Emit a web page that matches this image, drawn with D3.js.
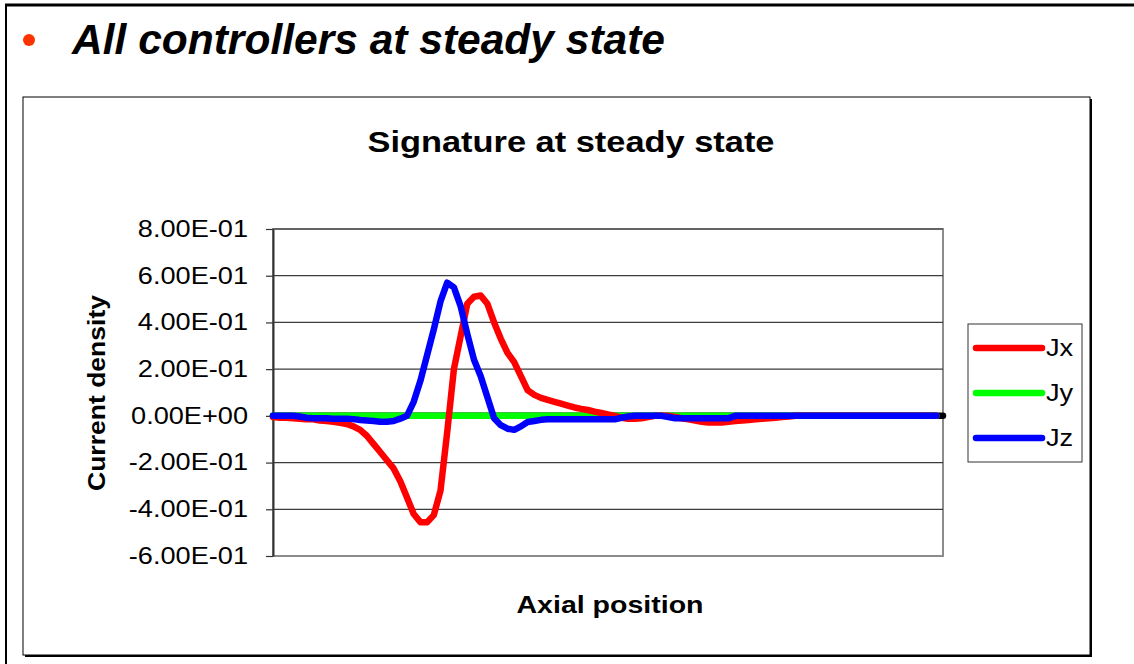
<!DOCTYPE html>
<html>
<head>
<meta charset="utf-8">
<script src="https://cdn.jsdelivr.net/npm/d3@7"></script>
<style>
  body { margin: 0; background: #fff; }
  text { font-family: Arial, "Liberation Sans", sans-serif; }
</style>
</head>
<body>
<div id="my_dataviz"></div>
<script>
// axial position index for each sample (100 samples)
const positions = d3.range(100);

// series
const jx = [-0.005, -0.008, -0.008, -0.01, -0.012, -0.015, -0.015, -0.02, -0.022, -0.025,
            -0.03, -0.035, -0.045, -0.06, -0.085, -0.12, -0.155, -0.19, -0.225, -0.28,
            -0.35, -0.42, -0.455, -0.455, -0.425, -0.32, -0.07, 0.2, 0.34, 0.48,
            0.51, 0.515, 0.48, 0.4, 0.33, 0.27, 0.23, 0.17, 0.11, 0.09,
            0.077, 0.068, 0.06, 0.052, 0.044, 0.036, 0.03, 0.025, 0.018, 0.012,
            0.006, 0, -0.008, -0.012, -0.012, -0.01, -0.005, 0, 0, 0,
            -0.005, -0.01, -0.015, -0.02, -0.025, -0.028, -0.028, -0.028, -0.025, -0.022,
            -0.02, -0.018, -0.015, -0.012, -0.01, -0.008, -0.005, -0.003, 0, 0,
            0, 0, 0, 0, 0, 0, 0, 0, 0, 0,
            0, 0, 0, 0, 0, 0, 0, 0, 0, 0];
const jy = [0, 0, 0, 0, 0, 0, 0, 0, 0, 0,
            0, 0, 0, 0, 0, 0, 0, 0, 0, 0,
            0, 0, 0, 0, 0, 0, 0, 0, 0, 0,
            0, 0, 0, 0, 0, 0, 0, 0, 0, 0,
            0, 0, 0, 0, 0, 0, 0, 0, 0, 0,
            0, 0, 0, 0, 0, 0, 0, 0, 0, 0,
            0, 0, 0, 0, 0, 0, 0, 0, 0, 0,
            0, 0, 0, 0, 0, 0, 0, 0, 0, 0,
            0, 0, 0, 0, 0, 0, 0, 0, 0, 0,
            0, 0, 0, 0, 0, 0, 0, 0, 0, 0];
const jz = [0, 0, 0, 0, -0.003, -0.008, -0.01, -0.01, -0.01, -0.012,
            -0.012, -0.012, -0.014, -0.018, -0.02, -0.022, -0.025, -0.025, -0.022, -0.012,
            0, 0.06, 0.15, 0.26, 0.37, 0.49, 0.57, 0.55, 0.47, 0.35,
            0.24, 0.17, 0.08, -0.01, -0.04, -0.055, -0.06, -0.045, -0.026, -0.022,
            -0.017, -0.015, -0.015, -0.015, -0.015, -0.015, -0.015, -0.015, -0.015, -0.015,
            -0.015, -0.015, -0.008, -0.003, 0, 0, 0, 0, 0, -0.005,
            -0.01, -0.01, -0.01, -0.01, -0.01, -0.01, -0.01, -0.01, -0.01, 0,
            0, 0, 0, 0, 0, 0, 0, 0, 0, 0,
            0, 0, 0, 0, 0, 0, 0, 0, 0, 0,
            0, 0, 0, 0, 0, 0, 0, 0, 0, 0];

const seriesNames = ["Jx", "Jy", "Jz"];
const seriesColors = ["#ff0000", "#00ff00", "#0000ff"];

const yTicks = [-0.6, -0.4, -0.2, 0, 0.2, 0.4, 0.6, 0.8];
const yTickLabels = ["-6.00E-01", "-4.00E-01", "-2.00E-01", "0.00E+00",
                     "2.00E-01", "4.00E-01", "6.00E-01", "8.00E-01"];

// stretch a text horizontally the way the slide was rendered
function stretch(sel, k) {
    sel.each(function() {
        const len = this.getComputedTextLength();
        d3.select(this)
          .attr("textLength", len * k)
          .attr("lengthAdjust", "spacingAndGlyphs");
    });
}

function init() {
    const width = 1134,
          height = 664;

    // plot area
    const left = 273, right = 943, top = 229, bottom = 556;

    const svg = d3.select("#my_dataviz")
                  .append("svg")
                  .attr("width", width)
                  .attr("height", height);

    // slide frame
    svg.append("line")
       .attr("x1", 5).attr("x2", width).attr("y1", 5).attr("y2", 5)
       .attr("stroke", "#000").attr("stroke-width", 3);
    svg.append("line")
       .attr("x1", 6).attr("x2", 6).attr("y1", 4).attr("y2", height)
       .attr("stroke", "#000").attr("stroke-width", 2);

    // slide bullet + heading
    svg.append("circle")
       .attr("cx", 29).attr("cy", 40).attr("r", 6)
       .attr("fill", "#ff3300");
    svg.append("text")
       .attr("x", 72).attr("y", 54)
       .attr("font-size", 43)
       .attr("font-weight", "bold")
       .attr("font-style", "italic")
       .attr("textLength", 593)
       .attr("lengthAdjust", "spacingAndGlyphs")
       .text("All controllers at steady state");

    // chart box with a small shadow
    svg.append("rect")
       .attr("x", 25).attr("y", 99).attr("width", 1067).attr("height", 558)
       .attr("fill", "#000");
    svg.append("rect")
       .attr("x", 23).attr("y", 97).attr("width", 1067).attr("height", 558)
       .attr("fill", "#fff").attr("stroke", "#000").attr("stroke-width", 1);

    svg.append("text")
       .attr("x", 571).attr("y", 152)
       .attr("font-size", 29)
       .attr("font-weight", "bold")
       .attr("text-anchor", "middle")
       .attr("textLength", 407)
       .attr("lengthAdjust", "spacingAndGlyphs")
       .text("Signature at steady state");

    // scales
    const x = d3.scaleLinear()
                .domain([0, 100])
                .range([left, right]);
    const y = d3.scaleLinear()
                .domain([-0.6, 0.8])
                .range([bottom, top]);

    // plot border
    svg.append("rect")
       .attr("x", left).attr("y", top)
       .attr("width", right - left).attr("height", bottom - top)
       .attr("fill", "#fff").attr("stroke", "#8c8c8c").attr("stroke-width", 2);

    // gridlines
    svg.append("g")
       .selectAll("line")
       .data(yTicks.filter(d => d !== -0.6))
       .join("line")
       .attr("x1", left).attr("x2", right)
       .attr("y1", d => y(d)).attr("y2", d => y(d))
       .attr("stroke", "#3c3c3c")
       .attr("stroke-width", 1.2);

    // y axis
    const yAxis = svg.append("g")
       .attr("transform", `translate(${left},0)`)
       .call(d3.axisLeft(y)
               .tickValues(yTicks)
               .tickFormat((d, i) => yTickLabels[i])
               .tickSize(7)
               .tickSizeOuter(0)
               .tickPadding(18));
    yAxis.select(".domain").attr("stroke", "#333").attr("stroke-width", 2);
    yAxis.selectAll(".tick line").attr("stroke", "#333").attr("stroke-width", 1.2);
    yAxis.selectAll(".tick text")
         .attr("font-size", 23)
         .attr("fill", "#000")
         .attr("font-family", "Arial, 'Liberation Sans', sans-serif")
         .call(stretch, 1.18);

    // category axis crossing at zero
    svg.append("line")
       .attr("x1", x(0)).attr("x2", x(100))
       .attr("y1", y(0)).attr("y2", y(0))
       .attr("stroke", "#000")
       .attr("stroke-width", 6.5)
       .attr("stroke-linecap", "round");

    // series
    const series = [jx, jy, jz];
    const line = d3.line()
                   .x((d, i) => x(positions[i]))
                   .y(d => y(d));

    // draw Jy first, then Jx, then Jz on top
    [1, 0, 2].forEach(k => {
        svg.append("path")
           .datum(series[k])
           .attr("d", line)
           .attr("fill", "none")
           .attr("stroke", seriesColors[k])
           .attr("stroke-width", 6.5)
           .attr("stroke-linejoin", "round")
           .attr("stroke-linecap", "round");
    });

    // axis titles
    svg.append("text")
       .attr("transform", "translate(105,393) rotate(-90)")
       .attr("font-size", 24)
       .attr("font-weight", "bold")
       .attr("text-anchor", "middle")
       .attr("textLength", 196)
       .attr("lengthAdjust", "spacingAndGlyphs")
       .text("Current density");

    svg.append("text")
       .attr("x", 610).attr("y", 613)
       .attr("font-size", 24)
       .attr("font-weight", "bold")
       .attr("text-anchor", "middle")
       .attr("textLength", 187)
       .attr("lengthAdjust", "spacingAndGlyphs")
       .text("Axial position");

    // legend
    const legend = svg.append("g");
    legend.append("rect")
          .attr("x", 968).attr("y", 324).attr("width", 114).attr("height", 138)
          .attr("fill", "#fff").attr("stroke", "#333").attr("stroke-width", 1);

    const legendY = d3.scalePoint()
                      .domain(seriesNames)
                      .range([348, 438]);

    const items = legend.selectAll("g.item")
                        .data(seriesNames)
                        .join("g")
                        .attr("class", "item")
                        .attr("transform", d => `translate(0,${legendY(d)})`);
    items.append("line")
         .attr("x1", 976).attr("x2", 1042)
         .attr("stroke", (d, i) => seriesColors[i])
         .attr("stroke-width", 6.5)
         .attr("stroke-linecap", "round");
    items.append("text")
         .attr("x", 1046)
         .attr("dy", "0.36em")
         .attr("font-size", 23)
         .text(d => d)
         .call(stretch, 1.18);
}

window.onload = init;
</script>
</body>
</html>
